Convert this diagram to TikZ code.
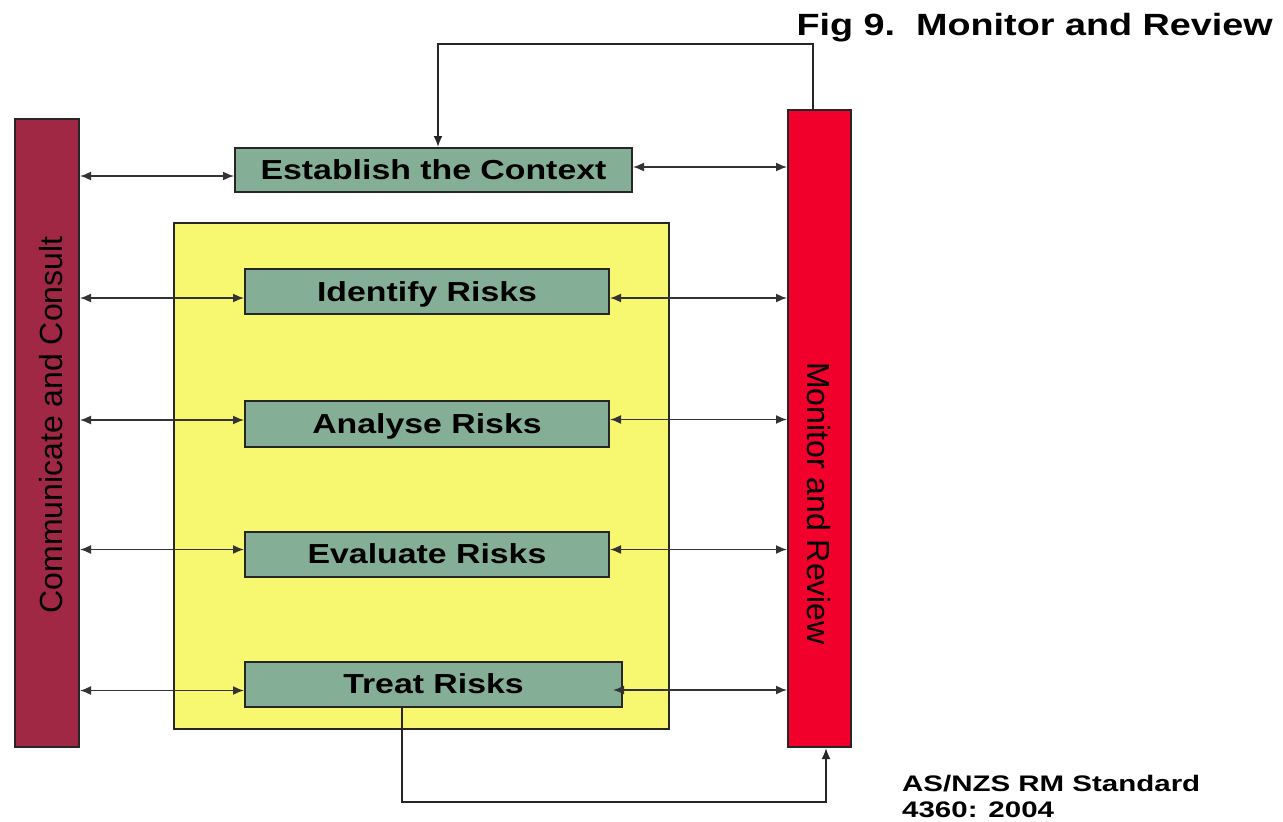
\documentclass[tikz,border=0pt]{standalone}
\usepackage{fontspec}
\setmainfont{Liberation Sans}
\usetikzlibrary{arrows.meta,calc}
\definecolor{commc}{RGB}{160,40,68}
\definecolor{monc}{RGB}{240,0,42}
\definecolor{boxc}{RGB}{132,174,150}
\definecolor{yelc}{RGB}{248,248,112}
\newcommand{\bxt}[1]{\raisebox{0pt}[\height][0pt]{\scalebox{1.23}[1]{#1}}}
\begin{document}
\begin{tikzpicture}[x=1pt,y=-1pt,
  bar/.style={draw=black!85, line width=2pt, inner sep=0pt},
  stepbox/.style={draw=black!85, line width=2pt, fill=boxc, inner sep=0pt,
    font=\fontsize{27.5}{30}\selectfont\bfseries},
  sidelabel/.style={inner sep=0pt, anchor=base, font=\fontsize{32}{34}\selectfont},
  arr/.style={line width=1.6pt, draw=black!80,
    {Latex[length=11pt,width=9pt]}-{Latex[length=11pt,width=9pt]}},
  flow/.style={line width=1.8pt, draw=black!85, -{Latex[length=11pt,width=9pt]}}]
\useasboundingbox[fill=white] (0,0) rectangle (1283,822);
% containers
\node[bar, fill=yelc, minimum width=495pt, minimum height=506pt] (risk) at (421.5,476) {};
\node[bar, fill=commc, minimum width=64pt, minimum height=628pt] (comm) at (47,433) {};
\node[bar, fill=monc, minimum width=63pt, minimum height=637pt] (mon) at (819.5,428.5) {};
\node[sidelabel, rotate=90] (commtxt) at (62,425) {Communicate and Consult};
\node[sidelabel, rotate=-90] (montxt) at (807,503.5) {Monitor and Review};
% steps
\node[stepbox, minimum width=397pt, minimum height=44pt] (est) at (433.5,170) {\bxt{Establish the Context}};
\node[stepbox, minimum width=364pt, minimum height=45pt] (ident) at (427,291.5) {\bxt{Identify Risks}};
\node[stepbox, minimum width=364pt, minimum height=46pt] (anal) at (427,423.5) {\bxt{Analyse Risks}};
\node[stepbox, minimum width=364pt, minimum height=45pt] (eval) at (427,554) {\bxt{Evaluate Risks}};
\node[stepbox, minimum width=377pt, minimum height=45pt] (treat) at (433.5,684) {\bxt{Treat Risks}};
% communicate arrows
\draw[arr] ($(comm.east|-est.west)+(0,6)$) -- ($(est.west)+(0,6)$);
\draw[arr] ($(comm.east|-ident.west)+(0,6.5)$) -- ($(ident.west)+(0,6.5)$);
\draw[arr] ($(comm.east|-anal.west)+(0,-3.5)$) -- ($(anal.west)+(0,-3.5)$);
\draw[arr] ($(comm.east|-eval.west)+(0,-4.5)$) -- ($(eval.west)+(0,-4.5)$);
\draw[arr] ($(comm.east|-treat.west)+(0,6.5)$) -- ($(treat.west)+(0,6.5)$);
% monitor arrows
\draw[arr] ($(est.east)+(0,-3)$) -- ($(mon.west|-est.east)+(0,-3)$);
\draw[arr] ($(ident.east)+(0,6.5)$) -- ($(mon.west|-ident.east)+(0,6.5)$);
\draw[arr] ($(anal.east)+(0,-4)$) -- ($(mon.west|-anal.east)+(0,-4)$);
\draw[arr] ($(eval.east)+(0,-4.5)$) -- ($(mon.west|-eval.east)+(0,-4.5)$);
\draw[arr] ($(treat.east)+(-10,6)$) -- ($(mon.west|-treat.east)+(0,6)$);
% feedback loops
\draw[flow] ($(mon.north)+(-6.5,0)$) -- ++(0,-65) -| ($(est.north)+(4.5,0)$);
\draw[flow] ($(treat.south)+(-31.5,0)$) -- ++(0,94.5) -| ($(mon.south)+(6.5,0)$);
% texts
\node[inner sep=0pt, anchor=base east, font=\fontsize{30.7}{33}\selectfont\bfseries] (title) at (1273,35)
  {\scalebox{1.23}[1]{Fig 9.\ \ Monitor and Review}};
\node[inner sep=0pt, anchor=base west, font=\fontsize{22.5}{25}\selectfont\bfseries] (std1) at (902,791)
  {\scalebox{1.31}[1]{AS/NZS RM Standard}};
\node[inner sep=0pt, anchor=base west, font=\fontsize{22.5}{25}\selectfont\bfseries] (std2) at (902,817)
  {\scalebox{1.31}[1]{4360: 2004}};
\end{tikzpicture}
\end{document}
